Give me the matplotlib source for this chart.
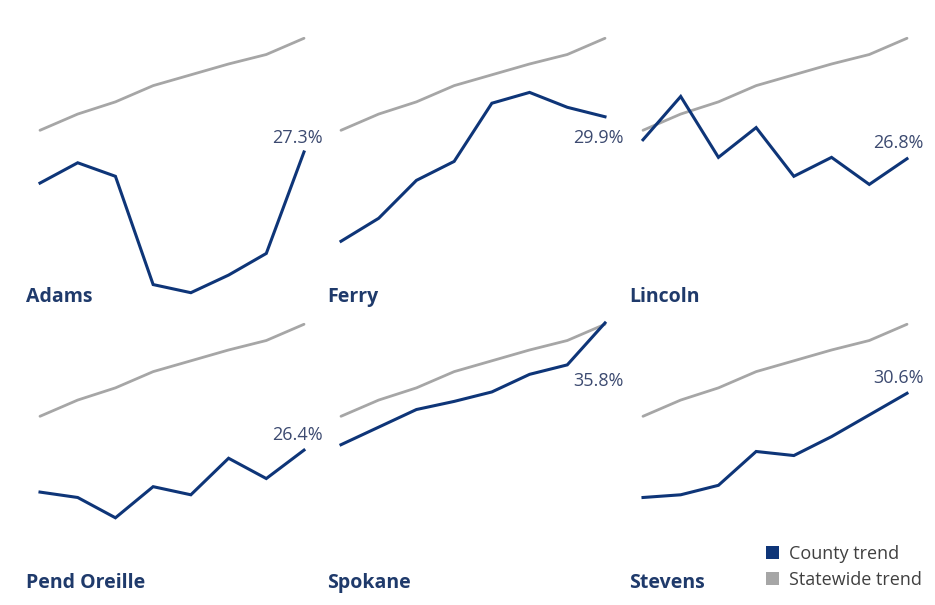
import numpy as np
import matplotlib.pyplot as plt
from matplotlib.patches import Patch

plt.rcParams["font.family"] = ["Open Sans", "DejaVu Sans"]

# 8 time points per panel
periods = list(range(8))

counties = ["Adams", "Ferry", "Lincoln", "Pend Oreille", "Spokane", "Stevens"]

statewide = [28.9, 30.1, 31.0, 32.2, 33.0, 33.8, 34.5, 35.7]

adams = [25.0, 26.5, 25.5, 17.5, 16.9, 18.2, 19.8, 27.3]
ferry = [20.7, 22.4, 25.2, 26.6, 30.9, 31.7, 30.6, 29.9]
lincoln = [28.2, 31.4, 26.9, 29.1, 25.5, 26.9, 24.9, 26.8]
pend_oreille = [23.3, 22.9, 21.4, 23.7, 23.1, 25.8, 24.3, 26.4]
spokane = [26.8, 28.1, 29.4, 30.0, 30.7, 32.0, 32.7, 35.8]
stevens = [22.9, 23.1, 23.8, 26.3, 26.0, 27.4, 29.0, 30.6]

county_values = [adams, ferry, lincoln, pend_oreille, spokane, stevens]

COUNTY_COLOR = "#0e3578"
STATE_COLOR = "#a6a6a6"
NAME_COLOR = "#1f3a6b"
VALUE_COLOR = "#3c4a70"

W, H = 935, 605
fig = plt.figure(figsize=(W / 100, H / 100), dpi=100)

# pixel layout of each panel (data area)
col_left = [40, 341, 643]
row_top = [20, 306]
panel_w = 264
panel_h = 280
ylim = (16.36, 37.05)

# label offsets (points) for the last-value annotation
label_offsets = [(-5, 10), (-5, -15), (-6, 11), (-5, 11), (-5, -42), (-6, 11)]

for i, (name, vals) in enumerate(zip(counties, county_values)):
    r, c = divmod(i, 3)
    left = col_left[c] / W
    bottom = 1 - (row_top[r] + panel_h) / H
    ax = fig.add_axes([left, bottom, panel_w / W, panel_h / H])
    ax.set_xlim(0, 7)
    ax.set_ylim(*ylim)
    ax.axis("off")

    ax.plot(periods, statewide, color=STATE_COLOR, lw=2.0, clip_on=False,
            solid_capstyle="round")
    ax.plot(periods, vals, color=COUNTY_COLOR, lw=2.2, clip_on=False,
            solid_joinstyle="miter")

    dx, dy = label_offsets[i]
    ax.annotate(f"{vals[-1]:.1f}%", (periods[-1], vals[-1]),
                xytext=(dx, dy), textcoords="offset points",
                ha="center", va="center", fontsize=13, color=VALUE_COLOR,
                annotation_clip=False)

    ax.text(-14 / panel_w, -2 / panel_h, name, transform=ax.transAxes,
            ha="left", va="baseline", fontsize=14, fontweight="bold",
            color=NAME_COLOR)

handles = [Patch(facecolor=COUNTY_COLOR, edgecolor="none", label="County trend"),
           Patch(facecolor=STATE_COLOR, edgecolor="none", label="Statewide trend")]
fig.legend(handles=handles, loc="upper left",
           bbox_to_anchor=(766 / W, 1 - 545 / H), frameon=False,
           handlelength=0.72, handleheight=0.72, handletextpad=0.55,
           labelspacing=0.42, fontsize=13, labelcolor="#404040",
           borderaxespad=0, borderpad=0)

fig.savefig("out.png", dpi=100, facecolor="white")
